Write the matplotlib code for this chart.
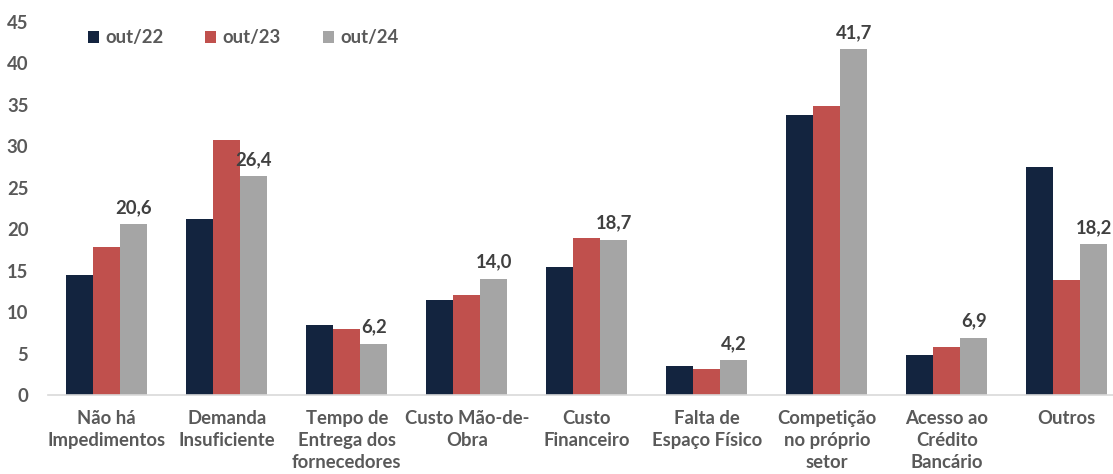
import numpy as np
import matplotlib.pyplot as plt

categorias = ['Não há\nImpedimentos', 'Demanda\nInsuficiente', 'Tempo de\nEntrega dos\nfornecedores',
              'Custo Mão-de-\nObra', 'Custo\nFinanceiro', 'Falta de\nEspaço Físico',
              'Competição\nno próprio\nsetor', 'Acesso ao\nCrédito\nBancário', 'Outros']
out22 = [14.5, 21.2, 8.4, 11.4, 15.4, 3.5, 33.8, 4.8, 27.5]
out23 = [17.9, 30.8, 7.9, 12.1, 18.9, 3.1, 34.9, 5.8, 13.9]
out24 = [20.6, 26.4, 6.2, 14.0, 18.7, 4.2, 41.7, 6.9, 18.2]

cores = ['#13243F', '#C0504D', '#A5A5A5']
texto = '#595959'

plt.rcParams['font.family'] = ['Lato', 'DejaVu Sans']
plt.rcParams['font.weight'] = 'bold'

fig = plt.figure(figsize=(11.13, 4.74), dpi=100)
ax = fig.add_axes([0.043, 0.1667, 0.957, 0.787])

x = np.arange(len(categorias))
w = 0.225
series = [('out/22', out22), ('out/23', out23), ('out/24', out24)]
for i, (nome, vals) in enumerate(series):
    barras = ax.bar(x + (i - 1) * w, vals, w, color=cores[i], label=nome)
    if i == 2:
        rot = [f'{v:.1f}'.replace('.', ',') for v in vals]
        ax.bar_label(barras, labels=rot, padding=6, fontsize=13.3,
                     fontweight='bold', color='#404040', clip_on=False)

ax.set_ylim(0, 45)
ax.set_xlim(-0.49, 8.385)
ax.set_yticks(range(0, 46, 5))
ax.set_xticks(x)
ax.set_xticklabels(categorias, linespacing=1.35)
ax.tick_params(axis='both', length=0, labelsize=13.3, labelcolor=texto)
ax.tick_params(axis='x', pad=11)
ax.tick_params(axis='y', pad=14)
for s in ['top', 'right', 'left']:
    ax.spines[s].set_visible(False)
ax.spines['bottom'].set_color('#D9D9D9')
ax.spines['bottom'].set_linewidth(1.2)

leg = ax.legend(loc='upper left', bbox_to_anchor=(0.022, 1.025), ncol=3, frameon=False,
                fontsize=13.3, handlelength=0.6, handleheight=0.6, columnspacing=2.25,
                handletextpad=0.35)
for t in leg.get_texts():
    t.set_color(texto)

plt.savefig('out.png', dpi=100)
